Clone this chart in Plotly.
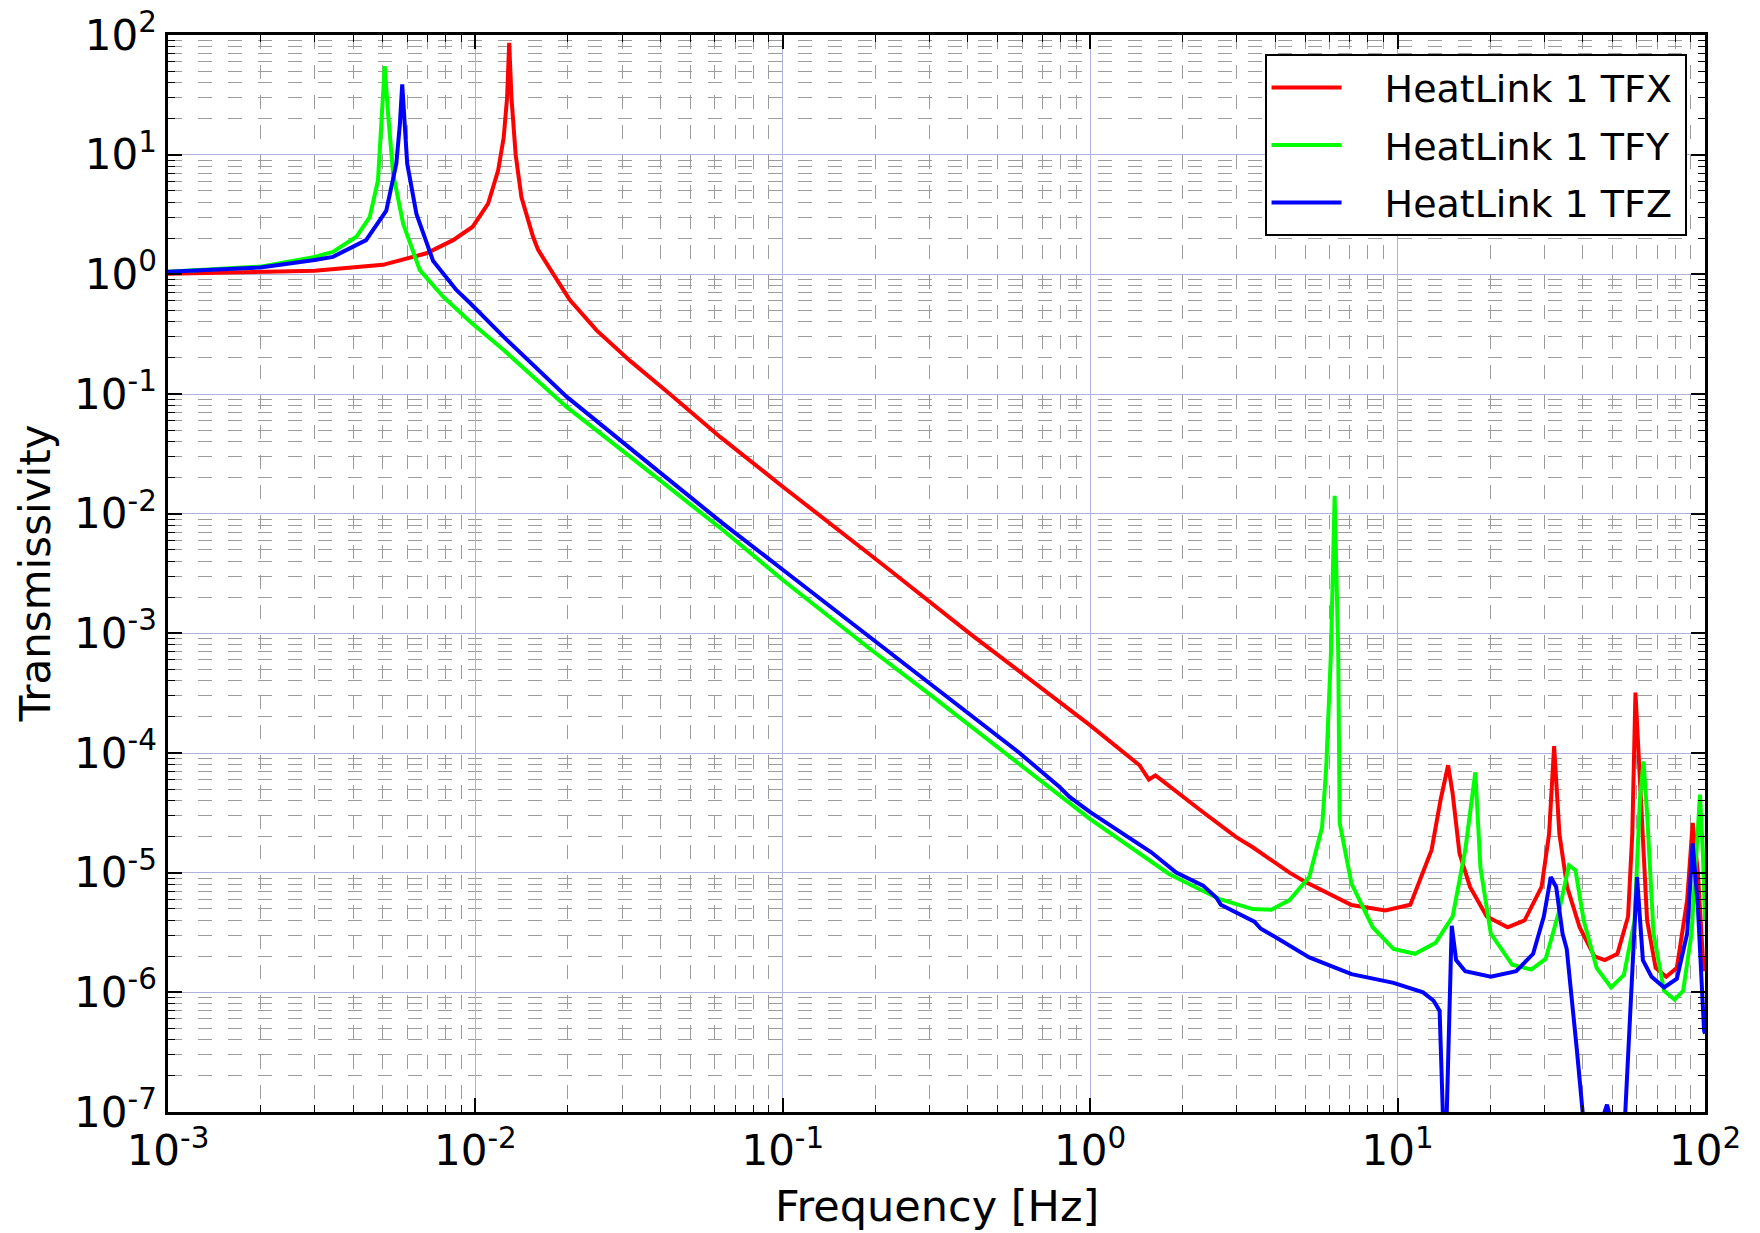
import plotly.graph_objects as go

# HeatLink 1 TFX (red)
freq_x = [0.001, 0.002, 0.003, 0.005, 0.00693, 0.00846, 0.0098, 0.0110, 0.01186, 0.01236,
          0.01268, 0.01288, 0.0131, 0.01352, 0.01412, 0.0154, 0.0160, 0.01795, 0.0203, 0.0248,
          0.0318, 0.0429, 0.0624, 0.1, 0.1316, 0.191, 0.222, 0.405, 1.0, 1.447,
          1.552, 1.631, 2.33, 2.985, 3.38, 4.45, 5.0, 7.08, 9.12, 11.0,
          12.9, 13.8, 14.6, 15.1, 15.9, 17.2, 19.5, 22.8, 25.9, 29.4,
          31.1, 32.3, 33.6, 35.6, 39.1, 43.7, 47.2, 51.9, 56.2, 58.0,
          59.4, 61.8, 64.8, 69.1, 74.8, 81.0, 87.5, 91.2, 94.8, 98.4, 100.0]
tfx = [1.01, 1.05, 1.07, 1.2, 1.5, 1.93, 2.5, 3.9, 7.4, 13.9,
       30, 86, 30, 10, 4.4, 2.06, 1.6, 1.0, 0.61, 0.34,
       0.19, 0.1, 0.044, 0.0168, 0.0096, 0.0046, 0.0034, 1.0e-3, 1.7e-4, 7.9e-5,
       6.0e-5, 6.5e-5, 3.2e-5, 1.98e-5, 1.63e-5, 1.0e-5, 8.4e-6, 5.37e-6, 4.84e-6, 5.4e-6,
       1.55e-5, 4.07e-5, 7.9e-5, 4.6e-5, 1.45e-5, 7.6e-6, 4.3e-6, 3.5e-6, 4.0e-6, 7.6e-6,
       2.1e-5, 1.14e-4, 2.1e-5, 7.6e-6, 3.5e-6, 2.0e-6, 1.86e-6, 2.1e-6, 4.3e-6, 2.1e-5,
       3.2e-4, 4.1e-5, 4.0e-6, 1.6e-6, 1.35e-6, 1.6e-6, 5.9e-6, 2.6e-5, 1.0e-5, 1.96e-6, 1.5e-6]

# HeatLink 1 TFY (green)
freq_y = [0.001, 0.002, 0.003, 0.00344, 0.0041, 0.00453, 0.00482, 0.00494, 0.00507, 0.0052,
          0.0054, 0.00582, 0.00659, 0.00785, 0.00964, 0.01236, 0.0198, 0.0334, 0.0638, 0.1,
          0.191, 0.30, 0.589, 1.0, 1.81, 2.64, 3.38, 3.88, 4.45, 5.16,
          5.68, 5.86, 6.07, 6.24, 6.41, 6.48, 7.08, 8.3, 9.7, 11.4,
          13.3, 15.1, 16.6, 17.9, 18.6, 20.1, 23.6, 27.2, 30.3, 33.4,
          36.1, 37.9, 40.3, 44.4, 49.5, 54.5, 59.0, 61.4, 63.1, 64.9,
          68.0, 73.6, 79.6, 84.9, 90.4, 94.2, 96.3, 98.4, 100.0]
tfy = [1.05, 1.16, 1.40, 1.54, 2.06, 3.0, 6.1, 15.8, 55, 21.8,
       6.9, 2.65, 1.09, 0.65, 0.40, 0.233, 0.078, 0.0272, 0.0073, 0.00279,
       7.5e-4, 3.1e-4, 8.1e-5, 2.8e-5, 9.7e-6, 6.0e-6, 4.96e-6, 4.9e-6, 5.9e-6, 9.2e-6,
       2.4e-5, 7.7e-5, 6.9e-4, 0.0141, 6.9e-4, 2.6e-5, 8.1e-6, 3.5e-6, 2.3e-6, 2.1e-6,
       2.6e-6, 4.3e-6, 1.55e-5, 6.9e-5, 1.1e-5, 3.1e-6, 1.7e-6, 1.55e-6, 1.9e-6, 4.6e-6,
       1.15e-5, 1.05e-5, 4.0e-6, 1.6e-6, 1.1e-6, 1.4e-6, 4.0e-6, 4.1e-5, 8.5e-5, 2.9e-5,
       3.1e-6, 1.03e-6, 8.7e-7, 1.03e-6, 3.1e-6, 1.9e-5, 4.5e-5, 1.5e-5, 4.0e-6]

# HeatLink 1 TFZ (blue)
freq_z = [0.001, 0.002, 0.003, 0.00344, 0.00441, 0.00513, 0.00553, 0.00568, 0.00578, 0.0059,
          0.0060, 0.00643, 0.00728, 0.00867, 0.00964, 0.01236, 0.0198, 0.0334, 0.0638, 0.1,
          0.191, 0.30, 0.589, 0.795, 0.857, 1.0, 1.48, 1.58, 1.905, 2.33,
          2.57, 2.66, 3.42, 3.59, 4.0, 5.16, 7.08, 9.7, 12.1, 13.1,
          13.7, 14.15, 14.35, 15.0, 15.5, 16.6, 20.1, 24.3, 27.6, 29.9,
          31.5, 32.8, 34.4, 35.5, 38.3, 41.0, 45.8, 48.0, 49.8, 54.5,
          60.1, 62.8, 67.0, 73.6, 81.0, 87.5, 91.2, 94.8, 99.3, 100.0]
tfz = [1.05, 1.14, 1.32, 1.4, 1.93, 3.4, 8.4, 18, 38.7, 19,
       8.4, 3.2, 1.3, 0.74, 0.57, 0.30, 0.095, 0.0319, 0.0083, 0.0034,
       9.4e-4, 3.8e-4, 1.0e-4, 5.2e-5, 4.3e-5, 3.2e-5, 1.63e-5, 1.48e-5, 1.0e-5, 7.8e-6,
       6.2e-6, 5.4e-6, 3.9e-6, 3.4e-6, 2.9e-6, 1.96e-6, 1.42e-6, 1.2e-6, 1.0e-6, 8.5e-7,
       7.0e-7, 5e-8, 5e-8, 3.6e-6, 1.86e-6, 1.5e-6, 1.35e-6, 1.5e-6, 2.1e-6, 4.3e-6,
       9.2e-6, 7.6e-6, 3.1e-6, 2.3e-6, 3.3e-7, 5e-8, 8e-8, 1.15e-7, 8e-8, 6e-8,
       9.2e-6, 1.86e-6, 1.35e-6, 1.1e-6, 1.3e-6, 3.1e-6, 1.76e-5, 5.2e-6, 4.8e-7, 4.5e-7]

x_exps = [-3, -2, -1, 0, 1, 2]
y_exps = [-7, -6, -5, -4, -3, -2, -1, 0, 1, 2]

font = 'DejaVu Sans'
pad = '\u2003'   # gap between legend line and label, as in the original legend
tail = '\u2009'  # a little room before the legend's right border

fig = go.Figure()
fig.add_scatter(x=freq_x, y=tfx, mode='lines', name=pad + 'HeatLink 1 TFX' + tail, legendgroup='x',
                line=dict(color='#ff0000', width=4))
fig.add_scatter(x=freq_y, y=tfy, mode='lines', name=pad + 'HeatLink 1 TFY' + tail, legendgroup='y',
                line=dict(color='#00ff00', width=4))
fig.add_scatter(x=freq_z, y=tfz, mode='lines', name=pad + 'HeatLink 1 TFZ' + tail, legendgroup='z',
                line=dict(color='#0000ff', width=4))


def log_axis(exps):
    minor_vals = [k * 10.0 ** e for e in exps[:-1] for k in range(2, 10)]
    return dict(
        type='log', range=[exps[0], exps[-1]],
        tickvals=[10.0 ** e for e in exps],
        ticktext=['10<sup>%d</sup>' % e for e in exps],
        tickfont=dict(size=42, color='black', family=font),
        ticklabeloverflow='allow',
        ticks='inside', ticklen=14, tickwidth=1.5, tickcolor='black',
        showline=True, linecolor='black', linewidth=2.5, mirror='ticks',
        showgrid=True, gridcolor='#b0b0dc', gridwidth=1.2, zeroline=False,
        minor=dict(tickvals=minor_vals, ticks='inside', ticklen=7, tickwidth=1.2, tickcolor='black',
                   showgrid=True, gridcolor='#9c9c9c', gridwidth=1.3, griddash='14px,16px'),
        automargin=False,
    )


# the page body keeps its default 8px margin, so the figure is made 8px smaller
fig.update_layout(
    width=1752, height=1225,
    paper_bgcolor='white', plot_bgcolor='white',
    font=dict(family=font, color='black'),
    margin=dict(l=160, r=55, t=27, b=121),
    xaxis=log_axis(x_exps),
    yaxis=log_axis(y_exps),
    legend=dict(x=0.988, y=0.982, xanchor='right', yanchor='top',
                bgcolor='white', bordercolor='black', borderwidth=2,
                font=dict(size=38, color='black', family=font),
                itemwidth=70, tracegroupgap=5),
    showlegend=True,
    annotations=[
        dict(text='Frequency [Hz]', xref='paper', yref='paper', x=0.5, y=-0.087,
             xanchor='center', yanchor='middle', showarrow=False,
             font=dict(size=43, color='black', family=font)),
        dict(text='Transmissivity', xref='paper', yref='paper', x=-0.086, y=0.5,
             xanchor='center', yanchor='middle', textangle=-90, showarrow=False,
             font=dict(size=42, color='black', family=font)),
    ],
)

fig.write_html("out.html")
